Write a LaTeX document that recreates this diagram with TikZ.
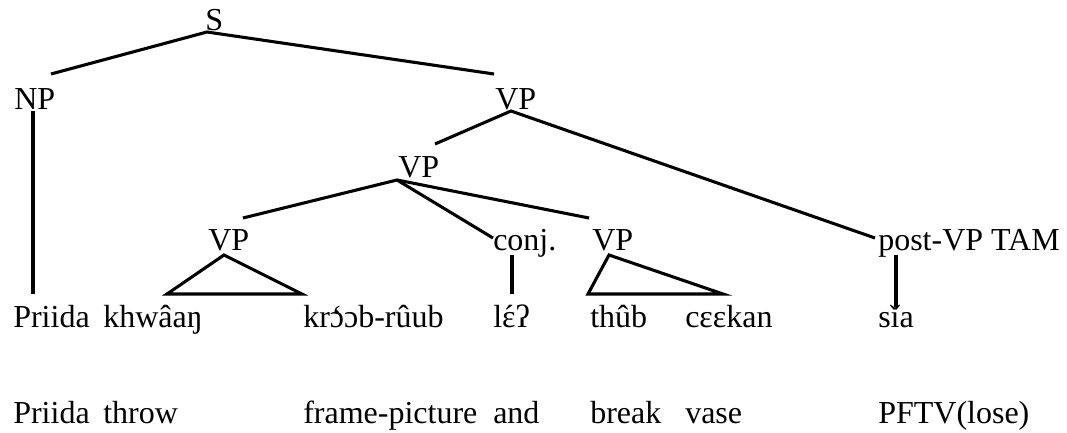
\documentclass[tikz,border=0pt]{standalone}
\usepackage{fontspec}
\setmainfont{Liberation Serif}
\newcommand\accon[2]{\ooalign{#1\cr\hidewidth#2\hidewidth\cr}}
\begin{document}
\begin{tikzpicture}[x=0.75pt,y=-0.75pt,
  lbl/.style={anchor=base west,inner sep=0pt,font=\fontsize{24}{28}\selectfont},
  edge/.style={line width=2.3pt,line join=miter}]
\useasboundingbox (0,0) rectangle (1067,432);
% category labels
\node[lbl] (S) at (205,31) {S};
\node[lbl] (NP) at (14,109) {NP};
\node[lbl] (VPa) at (495,109) {VP};
\node[lbl] (VPb) at (398,177) {VP};
\node[lbl] (VPc) at (208,250) {VP};
\node[lbl] (conj) at (493,250) {conj.};
\node[lbl] (VPd) at (592,250) {VP};
\node[lbl] (TAM) at (878,250) {post-VP TAM};
% transliteration
\node[lbl] (w1) at (13,327) {Priida};
\node[lbl] (w2) at (103,327) {khwâaŋ};
\node[lbl] (w3) at (303,327) {kr\accon{ɔ}{`}ɔb-rûub};
\node[lbl] (w4) at (493,327) {l\accon{ɛ}{´}ʔ};
\node[lbl] (w5) at (590,327) {thûb};
\node[lbl] (w6) at (685,327) {cɛɛkan};
\node[lbl] (w7) at (878,327) {sǐa};
% glosses
\node[lbl] (g1) at (13,423) {Priida};
\node[lbl] (g2) at (103,423) {throw};
\node[lbl] (g3) at (303,423) {frame-picture};
\node[lbl] (g4) at (493,423) {and};
\node[lbl] (g5) at (590,423) {break};
\node[lbl] (g6) at (685,423) {vase};
\node[lbl] (g7) at (878,423) {PFTV(lose)};
% attachment points
\coordinate (S-a) at (207,32);
\coordinate (NP-t) at (51,74);
\coordinate (NP-a) at (33,111);
\coordinate (NP-e) at (33,294);
\coordinate (VPa-t) at (494,74);
\coordinate (VPa-a) at (511,111);
\coordinate (VPb-t) at (435,144);
\coordinate (VPb-a) at (397,180);
\coordinate (VPc-t) at (243,218);
\coordinate (VPc-a) at (224,255);
\coordinate (VPc-l) at (167,294);
\coordinate (VPc-r) at (302,294);
\coordinate (conj-t) at (493,238);
\coordinate (conj-a) at (512,255);
\coordinate (conj-e) at (512,294);
\coordinate (VPd-t) at (589,218);
\coordinate (VPd-a) at (609,255);
\coordinate (VPd-l) at (588,294);
\coordinate (VPd-r) at (723,294);
\coordinate (TAM-t) at (875,238);
\coordinate (TAM-a) at (896,255);
\coordinate (TAM-e) at (896,307);
% branches
\draw[edge] (NP-t) -- (S-a) -- (VPa-t);
\draw[edge] (NP-a) -- (NP-e);
\draw[edge] (VPb-t) -- (VPa-a) -- (TAM-t);
\draw[edge] (VPc-t) -- (VPb-a) -- (VPd-t);
\draw[edge] (VPb-a) -- (conj-t);
\draw[edge] (VPc-a) -- (VPc-l) -- (VPc-r) -- cycle;
\draw[edge] (conj-a) -- (conj-e);
\draw[edge] (VPd-a) -- (VPd-l) -- (VPd-r) -- cycle;
\draw[edge] (TAM-a) -- (TAM-e);
\end{tikzpicture}
\end{document}
